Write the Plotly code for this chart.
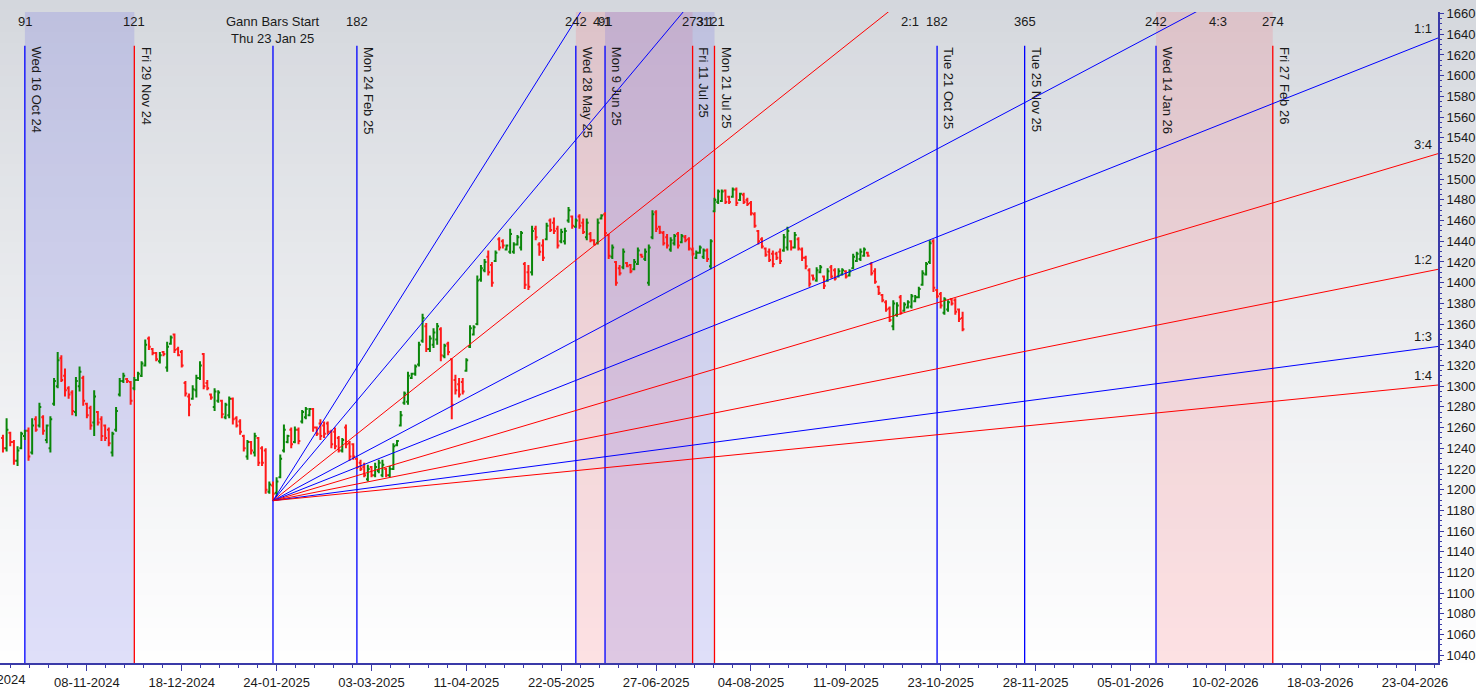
import plotly.graph_objects as go

# daily bars, x = trading-bar index (0 = 24-01-2025)
first_bar = -75
opens = [1250, 1240, 1255, 1246, 1228, 1240, 1252, 1257, 1236, 1268, 1262, 1270, 1248, 1240, 1283,
         1300, 1327, 1310, 1298, 1294, 1275, 1300, 1308, 1283, 1279, 1265, 1275, 1268, 1262, 1258,
         1236, 1258, 1292, 1305, 1307, 1304, 1298, 1306, 1310, 1320, 1346, 1336, 1332, 1324, 1333,
         1318, 1341, 1350, 1336, 1333, 1303, 1290, 1288, 1296, 1308, 1331, 1303, 1292, 1280, 1286,
         1286, 1270, 1272, 1288, 1269, 1266, 1252, 1232, 1246, 1236, 1250, 1240, 1238, 1198, 1204,
         1197, 1212, 1238, 1246, 1258, 1246, 1258, 1266, 1270, 1272, 1278, 1260, 1264, 1262, 1264,
         1256, 1256, 1250, 1238, 1260, 1245, 1244, 1230, 1226, 1222, 1210, 1222, 1214, 1218, 1214,
         1220, 1214, 1220, 1243, 1262, 1284, 1285,
         1308, 1312, 1321, 1344, 1358, 1336, 1340, 1345, 1355, 1329, 1341, 1326, 1306, 1302, 1304,
         1315, 1338, 1350, 1360, 1403, 1412, 1425, 1417, 1421, 1442, 1440, 1432, 1430, 1430, 1437,
         1434, 1418, 1410, 1410, 1452, 1437, 1436, 1442, 1460, 1458, 1452, 1440, 1440, 1460, 1464,
         1454, 1464, 1458, 1444, 1447, 1441, 1438, 1462, 1466, 1446, 1425, 1420, 1414, 1415, 1419,
         1417, 1413, 1418, 1427, 1423, 1400, 1444, 1468, 1454, 1448, 1444, 1432, 1438, 1447, 1439,
         1444, 1442, 1432, 1424, 1429, 1425, 1431, 1416, 1469,
         1478, 1479, 1489, 1483, 1483, 1490, 1480, 1485, 1480, 1477, 1466, 1450, 1442, 1433, 1430,
         1428, 1428, 1430, 1431, 1434, 1440, 1434, 1442, 1432, 1424, 1412, 1407, 1402, 1410, 1406,
         1402, 1415, 1412, 1406, 1408, 1411, 1407, 1414, 1421, 1423, 1426, 1429, 1418, 1411, 1396,
         1388, 1381, 1375, 1358, 1369, 1386, 1373, 1376, 1377, 1382, 1386, 1398, 1408, 1420, 1440,
         1393, 1389, 1371, 1374, 1384, 1383, 1374, 1366]
highs = [1253, 1269, 1256, 1248, 1242, 1256, 1258, 1260, 1269, 1271, 1284, 1272, 1263, 1271, 1308,
         1333, 1330, 1317, 1300, 1296, 1309, 1319, 1310, 1284, 1281, 1296, 1276, 1271, 1263, 1260,
         1256, 1280, 1308, 1313, 1308, 1305, 1309, 1314, 1324, 1345, 1348, 1337, 1333, 1333, 1334,
         1343, 1349, 1351, 1338, 1335, 1305, 1293, 1301, 1311, 1324, 1332, 1306, 1293, 1298, 1296,
         1287, 1284, 1290, 1289, 1271, 1268, 1253, 1248, 1247, 1255, 1251, 1242, 1240, 1208, 1208,
         1212, 1234, 1263, 1253, 1260, 1261, 1260, 1277, 1280, 1279, 1279, 1261, 1268, 1266, 1266,
         1258, 1260, 1252, 1250, 1263, 1247, 1245, 1231, 1229, 1226, 1224, 1223, 1226, 1229, 1229,
         1221, 1223, 1245, 1248, 1276, 1295, 1314,
         1313, 1321, 1343, 1370, 1361, 1349, 1356, 1361, 1357, 1341, 1343, 1327, 1311, 1308, 1308,
         1327, 1359, 1359, 1407, 1417, 1423, 1431, 1420, 1431, 1444, 1442, 1437, 1452, 1439, 1446,
         1450, 1420, 1417, 1455, 1455, 1439, 1442, 1458, 1462, 1463, 1455, 1452, 1453, 1473, 1465,
         1462, 1466, 1462, 1462, 1449, 1442, 1462, 1466, 1468, 1447, 1437, 1421, 1417, 1433, 1420,
         1418, 1423, 1434, 1428, 1433, 1437, 1470, 1470, 1455, 1450, 1447, 1444, 1447, 1449, 1447,
         1446, 1444, 1434, 1431, 1436, 1433, 1433, 1442, 1482,
         1490, 1490, 1490, 1484, 1492, 1492, 1487, 1487, 1482, 1479, 1468, 1451, 1444, 1434, 1433,
         1431, 1430, 1433, 1447, 1454, 1441, 1449, 1444, 1434, 1426, 1414, 1408, 1415, 1417, 1407,
         1414, 1417, 1414, 1414, 1414, 1412, 1413, 1428, 1430, 1433, 1434, 1430, 1420, 1414, 1397,
         1389, 1383, 1377, 1383, 1381, 1388, 1381, 1383, 1389, 1388, 1396, 1412, 1420, 1441, 1442,
         1394, 1391, 1386, 1383, 1385, 1385, 1375, 1372]
lows = [1236, 1237, 1242, 1224, 1223, 1239, 1248, 1228, 1234, 1256, 1260, 1253, 1245, 1236, 1281,
        1298, 1304, 1290, 1288, 1272, 1271, 1295, 1281, 1269, 1258, 1252, 1262, 1247, 1247, 1242,
        1232, 1256, 1290, 1303, 1303, 1282, 1296, 1305, 1309, 1319, 1335, 1330, 1324, 1322, 1329,
        1314, 1340, 1332, 1329, 1318, 1290, 1271, 1287, 1289, 1306, 1297, 1296, 1287, 1276, 1284,
        1269, 1268, 1269, 1263, 1260, 1253, 1237, 1229, 1234, 1232, 1223, 1223, 1196, 1196, 1189.4,
        1194, 1211, 1236, 1245, 1240, 1245, 1244, 1264, 1268, 1271, 1256, 1252, 1248, 1250, 1253,
        1240, 1239, 1236, 1236, 1240, 1228, 1229, 1220, 1218, 1212, 1208, 1212, 1212, 1216, 1212,
        1212, 1212, 1219, 1242, 1261, 1282, 1282,
        1307, 1310, 1319, 1342, 1333, 1333, 1337, 1340, 1324, 1327, 1330, 1268, 1292, 1289, 1292,
        1314, 1337, 1349, 1359, 1401, 1410, 1407, 1396, 1420, 1431, 1433, 1431, 1428, 1428, 1436,
        1431, 1394, 1393, 1407, 1441, 1426, 1421, 1441, 1449, 1447, 1433, 1438, 1437, 1458, 1452,
        1453, 1452, 1447, 1441, 1439, 1436, 1437, 1461, 1445, 1423, 1423, 1397, 1407, 1413, 1415,
        1409, 1412, 1417, 1424, 1421, 1397, 1442, 1449, 1447, 1436, 1433, 1430, 1436, 1433, 1438,
        1439, 1431, 1426, 1423, 1428, 1423, 1420, 1413, 1468,
        1476, 1478, 1476, 1476, 1482, 1474, 1479, 1476, 1474, 1465, 1453, 1437, 1433, 1425, 1420,
        1415, 1422, 1418, 1430, 1431, 1431, 1433, 1431, 1421, 1413, 1396, 1402, 1401, 1409, 1394,
        1401, 1404, 1402, 1405, 1407, 1404, 1406, 1413, 1420, 1421, 1425, 1425, 1407, 1399, 1388,
        1381, 1372, 1362, 1354, 1367, 1369, 1372, 1375, 1375, 1381, 1385, 1397, 1407, 1418, 1391,
        1385, 1375, 1369, 1372, 1378, 1369, 1362, 1353]
closes = [1240, 1258, 1246, 1228, 1238, 1254, 1257, 1232, 1262, 1258, 1280, 1257, 1262, 1268, 1305,
          1325, 1306, 1296, 1292, 1276, 1305, 1314, 1286, 1272, 1262, 1290, 1265, 1252, 1250, 1245,
          1254, 1276, 1305, 1310, 1305, 1286, 1306, 1312, 1322, 1340, 1338, 1332, 1326, 1330, 1331,
          1338, 1347, 1335, 1330, 1320, 1293, 1282, 1297, 1308, 1320, 1300, 1298, 1289, 1295, 1294,
          1273, 1282, 1288, 1268, 1262, 1256, 1240, 1246, 1238, 1252, 1226, 1226, 1200, 1205, 1196,
          1208, 1230, 1258, 1252, 1244, 1258, 1247, 1275, 1278, 1278, 1260, 1254, 1252, 1254, 1256,
          1244, 1242, 1238, 1248, 1244, 1232, 1232, 1222, 1220, 1214, 1220, 1214, 1222, 1226, 1224,
          1214, 1220, 1242, 1247, 1272, 1293, 1310,
          1312, 1319, 1340, 1366, 1336, 1346, 1352, 1358, 1330, 1339, 1333, 1282, 1296, 1292, 1295,
          1325, 1356, 1357, 1402, 1414, 1420, 1410, 1400, 1429, 1434, 1436, 1436, 1447, 1437, 1444,
          1448, 1398, 1396, 1450, 1444, 1430, 1424, 1455, 1451, 1450, 1436, 1449, 1450, 1470, 1455,
          1460, 1455, 1449, 1458, 1441, 1437, 1458, 1465, 1448, 1426, 1434, 1400, 1409, 1430, 1416,
          1411, 1420, 1431, 1425, 1430, 1434, 1466, 1452, 1449, 1438, 1436, 1441, 1445, 1436, 1445,
          1441, 1433, 1428, 1429, 1434, 1431, 1423, 1440, 1480,
          1488, 1488, 1478, 1478, 1490, 1477, 1486, 1478, 1476, 1467, 1455, 1440, 1435, 1427, 1422,
          1418, 1424, 1421, 1444, 1450, 1434, 1446, 1433, 1424, 1416, 1399, 1404, 1412, 1415, 1397,
          1411, 1406, 1404, 1411, 1412, 1406, 1411, 1425, 1428, 1430, 1432, 1426, 1409, 1401, 1390,
          1383, 1374, 1364, 1380, 1378, 1371, 1379, 1381, 1387, 1386, 1394, 1409, 1418, 1438, 1395,
          1387, 1378, 1384, 1381, 1380, 1372, 1365, 1355]

tick_bars = [-52, -26, 0, 26, 52, 78, 104, 130, 156, 182, 208, 234, 260, 286, 312]
tick_labels = ['08-11-2024', '18-12-2024', '24-01-2025', '03-03-2025', '11-04-2025', '22-05-2025',
               '27-06-2025', '04-08-2025', '11-09-2025', '23-10-2025', '28-11-2025', '05-01-2026',
               '10-02-2026', '18-03-2026', '23-04-2026']

# Gann fan from the 23 Jan 25 low
gann_bar = -1
gann_low = 1189.4
gann_unit = 1.4
fan_ratios = [4, 3, 2, 4 / 3, 1, 3 / 4, 1 / 2, 1 / 3, 1 / 4]
fan_names = ['4:1', '3:1', '2:1', '4:3', '1:1', '3:4', '1:2', '1:3', '1:4']
fan_colors = ['blue', 'blue', 'red', 'blue', 'blue', 'red', 'red', 'blue', 'red']

# time cycle markers
event_bars = [-69, -39, -1, 22, 82, 90, 114, 120, 181, 205, 241, 273]
event_counts = ['91', '121', 'Gann Bars Start<br>Thu 23 Jan 25', '182', '242', '91', '273', '121',
                '182', '365', '242', '274']
event_dates = ['Wed 16 Oct 24', 'Fri 29 Nov 24', '', 'Mon 24 Feb 25', 'Wed 28 May 25', 'Mon 9 Jun 25',
               'Fri 11 Jul 25', 'Mon 21 Jul 25', 'Tue 21 Oct 25', 'Tue 25 Nov 25', 'Wed 14 Jan 26',
               'Fri 27 Feb 26']
event_colors = ['blue', 'red', 'blue', 'blue', 'blue', 'blue', 'red', 'red', 'blue', 'blue', 'blue', 'red']
shade_from = [-69, 82, 90, 241]
shade_to = [-39, 114, 120, 273]
shade_colors = ['blue', 'red', 'blue', 'red']

x_range = [-75.81, 318.28]
y_range = [1032.6, 1661.5]
axis_col = '#3a3aa8'
line_col = {'blue': '#0000ff', 'red': '#ff0000'}
fill_col = {'blue': 'rgba(100,100,230,0.2)', 'red': 'rgba(250,110,120,0.2)'}
font = dict(family='Arial', size=13, color='#1a1a1a')

bars = list(range(first_bar, first_bar + len(closes)))

fig = go.Figure()
fig.add_trace(go.Ohlc(x=bars, open=opens, high=highs, low=lows, close=closes, tickwidth=0.5,
                      increasing=dict(line=dict(color='#0a860a', width=2)),
                      decreasing=dict(line=dict(color='#ff1a1a', width=2)),
                      showlegend=False))

for r, name, c in zip(fan_ratios, fan_names, fan_colors):
    x_end = 340
    fig.add_trace(go.Scatter(x=[gann_bar, x_end], y=[gann_low, gann_low + r * gann_unit * (x_end - gann_bar)],
                             mode='lines', line=dict(color=line_col[c], width=1), showlegend=False,
                             hoverinfo='skip'))
    y_edge = gann_low + r * gann_unit * (x_range[1] - gann_bar)
    if y_edge <= y_range[1]:
        fig.add_annotation(x=0.997, xref='paper', xanchor='right', y=y_edge, yref='y', yanchor='bottom',
                           text=name, showarrow=False, font=font)
    else:
        x_exit = gann_bar + (y_range[1] - gann_low) / (r * gann_unit)
        fig.add_annotation(x=x_exit + 6, xref='x', xanchor='center', y=1, yref='paper', yanchor='top',
                           text=name, showarrow=False, font=font)

shapes = []
# background gradient, grey at top fading to white
n_bands = 60
top_paper = 666 / 654
for k in range(n_bands):
    t = k / n_bands
    rgb = [int(a + (255 - a) * t ** 0.85) for a in (212, 215, 221)]
    shapes.append(dict(type='rect', xref='paper', yref='paper', x0=0, x1=1.03,
                       y0=top_paper * (1 - (k + 1) / n_bands), y1=top_paper * (1 - k / n_bands) + 0.002,
                       fillcolor='rgb(%d,%d,%d)' % tuple(rgb), line=dict(width=0), layer='below'))
for a, b, c in zip(shade_from, shade_to, shade_colors):
    shapes.append(dict(type='rect', xref='x', yref='paper', x0=a, x1=b, y0=0, y1=1,
                       fillcolor=fill_col[c], line=dict(width=0), layer='below'))
for xb, c in zip(event_bars, event_colors):
    shapes.append(dict(type='line', xref='x', yref='paper', x0=xb, x1=xb, y0=0, y1=0.948,
                       line=dict(color=line_col[c], width=1.3), layer='below'))

for xb, cnt, dt in zip(event_bars, event_counts, event_dates):
    fig.add_annotation(x=xb, xref='x', xanchor='center', y=1, yref='paper', yanchor='top', text=cnt,
                       showarrow=False, font=font)
    if dt:
        fig.add_annotation(x=xb, xref='x', xanchor='left', xshift=2, y=0.9495, yref='paper',
                           yanchor='top', text=dt, textangle=90, showarrow=False, font=font)

# first date label, mostly off the left edge
fig.add_annotation(x=-8 / 1440, xref='paper', xanchor='center', y=0, yref='paper', yanchor='top',
                   yshift=-7, text='03-10-2024', showarrow=False, font=font)

fig.update_layout(
    width=1476, height=690,
    margin=dict(l=0, r=36, t=12, b=24, pad=0),
    paper_bgcolor='white', plot_bgcolor='rgba(0,0,0,0)',
    showlegend=False, shapes=shapes,
    xaxis=dict(range=x_range, tickmode='array', tickvals=tick_bars, ticktext=tick_labels,
               ticks='outside', ticklen=6, tickcolor=axis_col, showline=True, linecolor=axis_col,
               linewidth=2, showgrid=False, zeroline=False, rangeslider=dict(visible=False),
               tickfont=font,
               minor=dict(tickmode='linear', tick0=0, dtick=5.2, ticks='outside', ticklen=3,
                          tickcolor=axis_col, showgrid=False)),
    yaxis=dict(range=y_range, side='right', tickmode='linear', tick0=1040, dtick=20,
               ticks='outside', ticklen=4, tickcolor=axis_col, showline=True, linecolor=axis_col,
               linewidth=2, showgrid=False, zeroline=False, tickfont=font,
               minor=dict(tickmode='linear', tick0=1040, dtick=5, ticks='outside', ticklen=2,
                          tickcolor=axis_col, showgrid=False)),
)

# the page body has an 8px default margin; drop it so the chart sits at the window's corner
fig.write_html("out.html", config={'displayModeBar': False},
               post_script="document.body.style.margin='0';document.body.style.overflow='hidden';")
